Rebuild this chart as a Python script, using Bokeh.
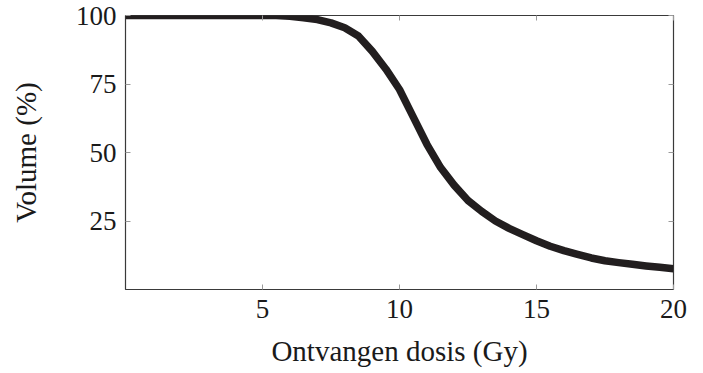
from bokeh.plotting import figure
from bokeh.models import LinearAxis, Range1d, FixedTicker
from bokeh.embed import file_html
from bokeh.resources import INLINE

# Data (dose in Gy, volume in %)
dose = [0, 0.5, 1, 1.5, 2, 2.5, 3, 3.5, 4, 4.5, 5, 5.5, 6, 6.5, 7, 7.5, 8, 8.5, 9, 9.5,
        10, 10.5, 11, 11.5, 12, 12.5, 13, 13.5, 14, 14.5, 15, 15.5, 16, 16.5, 17, 17.5,
        18, 18.5, 19, 19.5, 20]
volume = [100, 100, 100, 100, 100, 100, 100, 100, 100, 100, 100, 100, 99.7, 99.2, 98.5,
          97.3, 95.5, 92.5, 87.0, 80.5, 73.0, 63.0, 53.0, 44.5, 38.0, 32.5, 28.5, 25.0,
          22.3, 20.0, 17.8, 15.8, 14.2, 12.8, 11.5, 10.5, 9.8, 9.2, 8.6, 8.1, 7.6]

x_ticks = [5, 10, 15, 20]
y_ticks = [25, 50, 75, 100]
x_label = "Ontvangen dosis (Gy)"
y_label = "Volume (%)"

FONT = "Liberation Serif"
TXT = "#1a1a1a"
TICK = "#9a9a9a"
FRAME = "#3a3a3a"

p = figure(width=700, height=370, output_backend="svg", toolbar_location=None,
           x_range=Range1d(0, 20), y_range=Range1d(0, 100),
           min_border_left=125, min_border_right=27, min_border_top=15, min_border_bottom=81,
           x_axis_location=None, y_axis_location=None)
p.grid.visible = False
p.outline_line_color = FRAME
p.outline_line_width = 1.2
p.background_fill_color = "white"
p.border_fill_color = "white"

def style(ax, ticks, labels=True):
    ax.ticker = FixedTicker(ticks=ticks)
    ax.major_tick_in = 5
    ax.major_tick_out = 0
    ax.minor_tick_in = 0
    ax.minor_tick_out = 0
    ax.major_tick_line_color = TICK
    ax.major_tick_line_width = 1
    ax.axis_line_color = None
    ax.major_label_text_font = FONT
    ax.major_label_text_color = TXT
    ax.axis_label_text_font = FONT
    ax.axis_label_text_color = TXT
    ax.axis_label_text_font_style = "normal"
    if labels:
        ax.major_label_text_font_size = "27px"
        ax.axis_label_text_font_size = "29px"
    else:
        ax.major_label_text_alpha = 0
        ax.major_label_text_font_size = "1px"
        ax.major_label_standoff = 0

xb = LinearAxis(axis_label=x_label)
style(xb, x_ticks)
xb.major_label_standoff = 10
xb.axis_label_standoff = 14
p.add_layout(xb, "below")

yl = LinearAxis(axis_label=y_label)
style(yl, y_ticks)
yl.major_label_standoff = 9
yl.axis_label_standoff = 31
p.add_layout(yl, "left")

xt = LinearAxis()
style(xt, x_ticks, labels=False)
p.add_layout(xt, "above")
yr = LinearAxis()
style(yr, y_ticks, labels=False)
p.add_layout(yr, "right")

p.line(dose, volume, line_width=7.5, line_color="#221e1f", line_join="round")

open("out.html", "w").write(file_html(p, INLINE))
